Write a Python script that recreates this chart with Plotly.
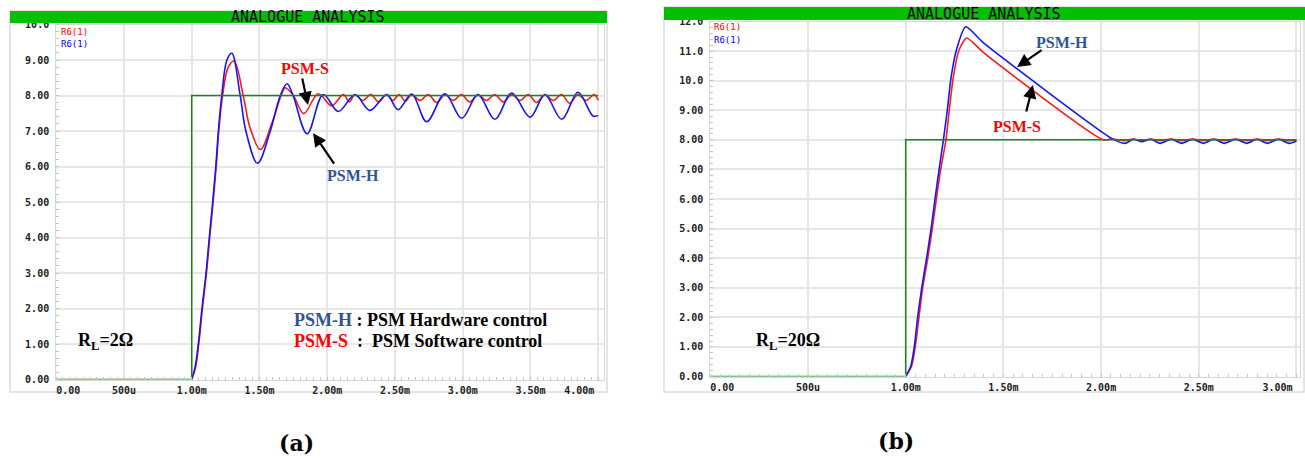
import plotly.graph_objects as go

W, H = 1305, 459

# ---------------- data : time in ms, voltage in V ----------------
# panel (a)  R_L = 2 ohm
a_step_t = [0.0, 1.0, 4.0]
a_step_v = [0.0, 8.0, 8.0]

a_hw_t = [1.0, 1.025, 1.049, 1.076, 1.106, 1.13, 1.155, 1.178, 1.197, 1.222, 1.26, 1.296,
          1.358, 1.40, 1.486, 1.58, 1.654, 1.704, 1.748, 1.852, 1.971, 2.082, 2.205, 2.316,
          2.439, 2.523, 2.624, 2.734, 2.869, 2.993, 3.113, 3.238, 3.362, 3.497, 3.607, 3.731,
          3.851, 3.962, 4.0]
a_hw_v = [0.0, 0.35, 1.0, 2.0, 3.0, 4.0, 5.0, 6.0, 7.0, 8.0, 9.0, 9.19,
          8.0, 7.0, 6.09, 7.0, 8.0, 8.33, 8.0, 6.92, 8.03, 7.55, 8.02, 7.58,
          8.02, 7.60, 8.04, 7.26, 8.05, 7.36, 8.02, 7.33, 8.07, 7.39, 8.02, 7.33,
          8.09, 7.42, 7.44]

a_sw_t = [1.0, 1.028, 1.052, 1.079, 1.109, 1.133, 1.158, 1.181, 1.20, 1.228, 1.27, 1.313,
          1.38, 1.43, 1.506, 1.59, 1.66, 1.69, 1.75, 1.827, 1.934, 2.033, 2.12, 2.163,
          2.205, 2.263, 2.322, 2.38, 2.439, 2.485, 2.531, 2.578, 2.624, 2.685, 2.746, 2.808,
          2.869, 2.93, 2.991, 3.052, 3.113, 3.175, 3.237, 3.30, 3.362, 3.423, 3.484, 3.545,
          3.607, 3.668, 3.729, 3.79, 3.851, 3.91, 3.97, 4.0]
a_sw_v = [0.0, 0.33, 1.0, 2.0, 3.0, 4.0, 5.0, 6.0, 7.0, 8.0, 8.8, 8.97,
          8.0, 7.1, 6.48, 7.2, 8.0, 8.22, 8.0, 7.49, 8.05, 7.71, 8.03, 7.82,
          8.03, 7.86, 8.03, 7.82, 8.03, 7.86, 8.03, 7.84, 8.03, 7.86, 8.03, 7.80,
          8.03, 7.86, 8.03, 7.82, 8.03, 7.86, 8.03, 7.82, 8.03, 7.86, 8.03, 7.80,
          8.03, 7.86, 8.03, 7.78, 8.03, 7.86, 8.03, 7.87]

# panel (b)  R_L = 20 ohm
b_step_t = [0.0, 1.0, 3.0]
b_step_v = [0.0, 8.0, 8.0]

b_hw_t = [1.0, 1.026, 1.044, 1.061, 1.082, 1.107, 1.13, 1.15, 1.171, 1.193, 1.213, 1.23,
          1.258, 1.307, 1.40, 2.056, 2.122, 2.165, 2.208, 2.255, 2.303, 2.358, 2.413,
          2.468, 2.524, 2.577, 2.63, 2.688, 2.746, 2.798, 2.851, 2.908, 2.964, 3.0]
b_hw_v = [0.0, 0.35, 1.0, 2.0, 3.0, 4.0, 5.0, 6.0, 7.0, 8.0, 9.0, 10.0,
          11.0, 11.82, 11.27, 8.04, 7.88, 8.02, 7.94, 8.02, 7.88, 8.02, 7.88,
          8.02, 7.88, 8.02, 7.88, 8.02, 7.88, 8.02, 7.88, 8.02, 7.88, 7.96]

b_sw_t = [1.0, 1.03, 1.049, 1.068, 1.087, 1.113, 1.136, 1.157, 1.179, 1.206, 1.223, 1.241,
          1.271, 1.312, 1.40, 2.011, 2.06, 2.12, 2.165, 2.208, 2.255, 2.303, 2.358, 2.413,
          2.468, 2.524, 2.577, 2.63, 2.688, 2.746, 2.798, 2.851, 2.908, 2.964, 3.0]
b_sw_v = [0.0, 0.35, 1.0, 2.0, 3.0, 4.0, 5.0, 6.0, 7.0, 8.0, 9.0, 10.0,
          11.0, 11.44, 10.94, 8.0, 8.03, 7.97, 8.03, 7.98, 8.03, 7.97, 8.03, 7.97,
          8.03, 7.97, 8.03, 7.97, 8.03, 7.97, 8.03, 7.97, 8.03, 7.97, 8.0]

a_xtick_vals = [0, 0.5, 1.0, 1.5, 2.0, 2.5, 3.0, 3.5, 4.0]
a_xtick_text = ["0.00", "500u", "1.00m", "1.50m", "2.00m", "2.50m", "3.00m", "3.50m", "4.00m"]
a_ytick_vals = [0, 1, 2, 3, 4, 5, 6, 7, 8, 9, 10]
a_ytick_text = ["0.00", "1.00", "2.00", "3.00", "4.00", "5.00", "6.00", "7.00", "8.00", "9.00", "10.0"]

b_xtick_vals = [0, 0.5, 1.0, 1.5, 2.0, 2.5, 3.0]
b_xtick_text = ["0.00", "500u", "1.00m", "1.50m", "2.00m", "2.50m", "3.00m"]
b_ytick_vals = [0, 1, 2, 3, 4, 5, 6, 7, 8, 9, 10, 11, 12]
b_ytick_text = ["0.00", "1.00", "2.00", "3.00", "4.00", "5.00", "6.00", "7.00", "8.00",
                "9.00", "10.0", "11.0", "12.0"]

# ---------------- styling ----------------
BLUE = "#1414ff"
RED = "#ff1a1a"
GREEN = "#128a12"
DARKBLUE = "#2F5496"
MONO = "DejaVu Sans Mono"
SERIF = "Liberation Serif"


def X(px):
    return px / W


def Y(py):
    return 1 - py / H


fig = go.Figure()

for xs, ys, col, xa, ya, sm in [
    (a_sw_t, a_sw_v, RED, "x", "y", 1.0),
    (a_hw_t, a_hw_v, BLUE, "x", "y", 1.0),
    (b_sw_t, b_sw_v, RED, "x2", "y2", 0.6),
    (b_hw_t, b_hw_v, BLUE, "x2", "y2", 0.6),
]:
    fig.add_trace(go.Scatter(x=xs, y=ys, mode="lines", xaxis=xa, yaxis=ya,
                             line=dict(color=col, width=1.6, shape="spline", smoothing=sm),
                             showlegend=False, hoverinfo="skip"))

for xs, ys, xa, ya in [(a_step_t, a_step_v, "x", "y"), (b_step_t, b_step_v, "x2", "y2")]:
    fig.add_trace(go.Scatter(x=xs, y=ys, mode="lines", xaxis=xa, yaxis=ya,
                             line=dict(color=GREEN, width=1.5, shape="hv"),
                             showlegend=False, hoverinfo="skip"))

# empty helper traces so that the overlay label axes get drawn
for xa, ya in [("x3", "y"), ("x4", "y"), ("x5", "y2"), ("x6", "y2")]:
    fig.add_trace(go.Scatter(x=[None], y=[None], mode="lines", xaxis=xa, yaxis=ya,
                             showlegend=False, hoverinfo="skip"))

tickfont = dict(family=MONO, size=10, color="#222222", weight="bold")


def xax(dom, rng, vals, text, anchor):
    # first and last labels are drawn by shifted overlay axes (as in the original screen)
    shown = [""] + list(text[1:-1]) + [""]
    return dict(domain=dom, range=rng, tickvals=vals, ticktext=shown, tickfont=tickfont,
                showgrid=True, gridcolor="#e6e6e6", gridwidth=2, zeroline=False,
                showline=True, linecolor="#d6d6d6", linewidth=1, mirror=True,
                ticks="outside", ticklen=1, tickcolor="rgba(0,0,0,0)",
                anchor=anchor, automargin=False,
                minor=dict(dtick=0.05, ticks="inside", ticklen=3, tickcolor="#c4c4c4",
                           showgrid=False),
                fixedrange=True)


def xover(dom, rng, val, text, anchor, over, shift):
    return dict(domain=dom, range=rng, tickvals=[val], ticktext=[text], tickfont=tickfont,
                showgrid=False, zeroline=False, showline=False, overlaying=over,
                ticks="outside", ticklen=1, tickcolor="rgba(0,0,0,0)",
                ticklabelshift=shift, ticklabeloverflow="allow",
                anchor=anchor, automargin=False, fixedrange=True, visible=True)


def yax(dom, rng, vals, text, anchor):
    return dict(domain=dom, range=rng, tickvals=vals, ticktext=text, tickfont=tickfont,
                showgrid=True, gridcolor="#e6e6e6", gridwidth=2, zeroline=False,
                showline=True, linecolor="#d6d6d6", linewidth=1, mirror=True,
                ticks="outside", ticklen=4, tickcolor="rgba(0,0,0,0)",
                anchor=anchor, automargin=False,
                minor=dict(dtick=0.2, ticks="inside", ticklen=3, tickcolor="#c4c4c4",
                           showgrid=False),
                fixedrange=True)


a_dom = [X(56.2), X(603.6)]
b_dom = [X(710.3), X(1300.4)]
a_rng = [0, 4.04]
b_rng = [0, 3.02]

fig.update_layout(
    width=W, height=H, autosize=False,
    margin=dict(l=0, r=0, t=0, b=0, autoexpand=False),
    paper_bgcolor="white", plot_bgcolor="white",
    xaxis=xax(a_dom, a_rng, a_xtick_vals, a_xtick_text, "y"),
    yaxis=yax([Y(379.5), Y(24.5)], [0, 10], a_ytick_vals, a_ytick_text, "x"),
    xaxis2=xax(b_dom, b_rng, b_xtick_vals, b_xtick_text, "y2"),
    yaxis2=yax([Y(376.5), Y(21.5)], [0, 12], b_ytick_vals, b_ytick_text, "x2"),
    xaxis3=xover(a_dom, a_rng, a_xtick_vals[0], a_xtick_text[0], "y", "x", 12),
    xaxis4=xover(a_dom, a_rng, a_xtick_vals[-1], a_xtick_text[-1], "y", "x", -19),
    xaxis5=xover(b_dom, b_rng, b_xtick_vals[0], b_xtick_text[0], "y2", "x2", 12),
    xaxis6=xover(b_dom, b_rng, b_xtick_vals[-1], b_xtick_text[-1], "y2", "x2", -19),
)

shapes = []
# panel frames
shapes.append(dict(type="rect", xref="paper", yref="paper", x0=X(10), x1=X(607), y0=Y(392), y1=Y(11),
                   line=dict(color="#dcdcdc", width=1.5), layer="below"))
shapes.append(dict(type="rect", xref="paper", yref="paper", x0=X(664), x1=X(1304), y0=Y(392), y1=Y(7),
                   line=dict(color="#dcdcdc", width=1.5), layer="below"))
# green title bars
shapes.append(dict(type="rect", xref="paper", yref="paper", x0=X(10), x1=X(607), y0=Y(23), y1=Y(11),
                   line=dict(width=0), fillcolor="#00c000"))
shapes.append(dict(type="rect", xref="paper", yref="paper", x0=X(664), x1=X(1305), y0=Y(20), y1=Y(7),
                   line=dict(width=0), fillcolor="#00c000"))
fig.update_layout(shapes=shapes)

ann = []


def txt(x, y, s, size, color="black", family=SERIF, xanchor="center", bold=True):
    ann.append(dict(xref="paper", yref="paper", x=X(x), y=Y(y), text=s, showarrow=False,
                    xanchor=xanchor, yanchor="middle",
                    font=dict(family=family, size=size, color=color,
                              weight="bold" if bold else "normal")))


# bar titles
txt(308, 17, "ANALOGUE ANALYSIS", 15, family=MONO, bold=False)
txt(984, 13.5, "ANALOGUE ANALYSIS", 15, family=MONO, bold=False)
# trace tags
txt(59, 32, "R6(1)", 9, color="#ff0000", family=MONO, xanchor="left", bold=False)
txt(59, 44, "R6(1)", 9, color="#0000ff", family=MONO, xanchor="left", bold=False)
txt(712, 27, "R6(1)", 9, color="#ff0000", family=MONO, xanchor="left", bold=False)
txt(712, 40, "R6(1)", 9, color="#0000ff", family=MONO, xanchor="left", bold=False)

# curve labels
txt(305, 68, "PSM-S", 16, color="#ff0000")
txt(353, 175, "PSM-H", 16, color=DARKBLUE)
txt(1062, 42, "PSM-H", 16, color=DARKBLUE)
txt(1017, 126, "PSM-S", 16, color="#ff0000")

# legend-like text
txt(292, 320, "<span style='color:%s'>PSM-H</span> : PSM Hardware control" % DARKBLUE, 18,
    xanchor="left")
txt(292, 341, "<span style='color:#ff0000'>PSM-S</span>\u00a0 :\u00a0 PSM Software control", 18,
    xanchor="left")
txt(76, 341, "R<sub>L</sub>=2Ω", 18, xanchor="left")
txt(754, 341, "R<sub>L</sub>=20Ω", 18, xanchor="left")

# panel captions
txt(296, 443, "(a)", 22, family="DejaVu Serif")
txt(896, 441, "(b)", 22, family="DejaVu Serif")


def arrow(xa, ya, x, y, ax, ay):
    ann.append(dict(xref=xa, yref=ya, x=x, y=y, ax=ax, ay=ay, text="", showarrow=True,
                    arrowhead=2, arrowsize=1.2, arrowwidth=2.2, arrowcolor="black", standoff=0))


arrow("x", "y", 1.858, 7.73, -6, -28)
arrow("x", "y", 1.896, 6.94, 22, 32)
arrow("x2", "y2", 1.570, 10.46, 26, -18)
arrow("x2", "y2", 1.651, 9.85, -7, 28)

fig.update_layout(annotations=ann)

fig.write_html("out.html")
